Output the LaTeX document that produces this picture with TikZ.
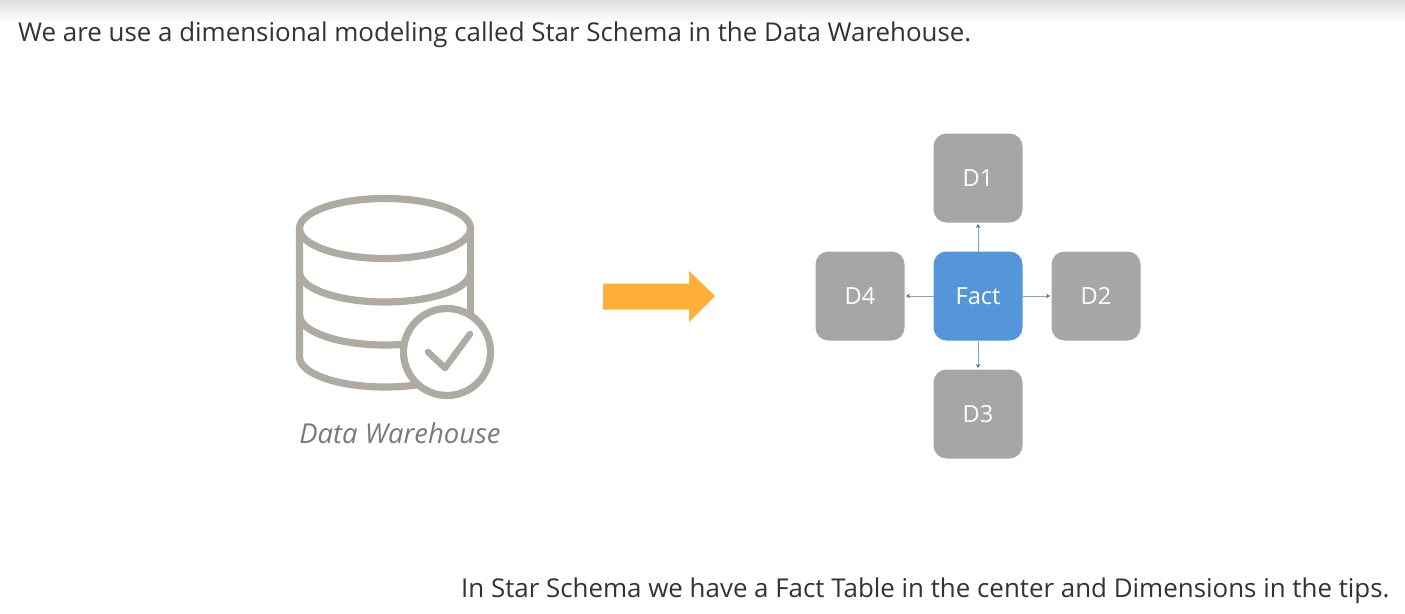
\documentclass[tikz,border=0pt]{standalone}
\usepackage{fontspec}
\setmainfont{Open Sans}
\usetikzlibrary{arrows.meta}
\definecolor{boxgray}{HTML}{A6A6A6}
\definecolor{factblue}{HTML}{5595D9}
\definecolor{linkblue}{HTML}{7FA3D3}
\definecolor{tipblue}{HTML}{4A6FA5}
\definecolor{icongray}{HTML}{AFABA2}
\definecolor{orangearrow}{HTML}{FFB038}
\definecolor{textdark}{HTML}{333333}
\tikzset{
  x=1pt,y=-1pt,
  tile/.style={minimum size=89pt,inner sep=0pt,outer sep=0pt,rounded corners=13pt,text=white,font=\fontsize{23.6}{28}\selectfont},
  dimtile/.style={tile,fill=boxgray},
  facttile/.style={tile,fill=factblue},
  link/.style={draw=linkblue,line width=1pt,shorten >=1.5pt,-{Stealth[length=4pt,width=4.5pt,color=tipblue]}},
  icon/.style={draw=icongray,line width=7.2pt,line cap=round,line join=round},
  caption/.style={text=textdark,inner sep=0pt,font=\fontsize{25.9}{30}\selectfont,anchor=base west}
}
\begin{document}
\begin{tikzpicture}
\useasboundingbox (0,0) rectangle (1405,613);
\fill[white] (0,0) rectangle (1405,613);
\shade[top color=black!13,bottom color=white] (0,0) rectangle (1405,22);
% captions
\node[caption] (top) at (18,41) {We are use a dimensional modeling called Star Schema in the Data Warehouse.};
\node[caption] (bottom) at (461,597) {In Star Schema we have a Fact Table in the center and Dimensions in the tips.};
% database icon
\draw[icon] (385,228.5) ellipse [x radius=85.5,y radius=30];
\draw[icon] (299.5,228.5) -- (299.5,357) arc [start angle=180,end angle=0,x radius=85.5,y radius=30];
\draw[icon] (470.5,228.5) -- (470.5,357);
\draw[icon] (299.5,272) arc [start angle=180,end angle=0,x radius=85.5,y radius=30];
\draw[icon] (299.5,315) arc [start angle=180,end angle=0,x radius=85.5,y radius=30];
\draw[icon,fill=white] (447,352) circle [radius=43.5];
\draw[icon,line width=6.5pt] (428,352) -- (445,368) -- (470,334);
\node[text=black!52,inner sep=0pt,font=\itshape\fontsize{27.4}{32}\selectfont] (dw) at (400,433) {Data Warehouse};
% orange arrow
\fill[orangearrow] (603,283.5) -- (689,283.5) -- (689,271) -- (715,296) -- (689,322) -- (689,309.5) -- (603,309.5) -- cycle;
% star schema
\node[facttile] (fact) at (978,296) {Fact};
\node[dimtile] (d1) at (978,178) {D1};
\node[dimtile] (d2) at (1096,296) {D2};
\node[dimtile] (d3) at (978,414) {D3};
\node[dimtile] (d4) at (860,296) {D4};
\draw[link] (fact) -- (d1);
\draw[link] (fact) -- (d2);
\draw[link] (fact) -- (d3);
\draw[link] (fact) -- (d4);
\end{tikzpicture}
\end{document}
